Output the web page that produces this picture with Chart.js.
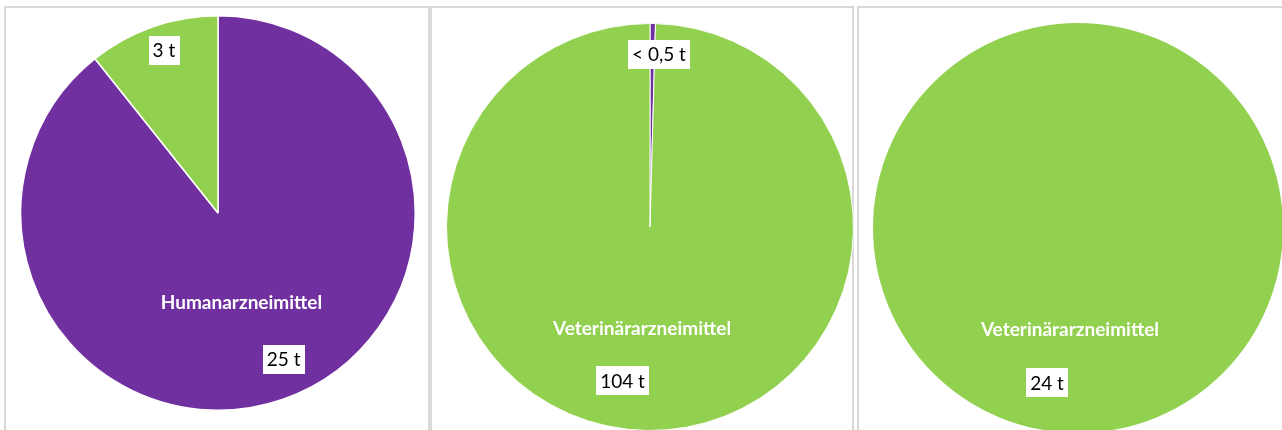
<!DOCTYPE html>
<html><head><meta charset="utf-8">
<script src="https://cdn.jsdelivr.net/npm/chart.js@4.4.1/dist/chart.umd.min.js"></script>
<style>
html,body{margin:0;padding:0;width:1282px;height:430px;overflow:hidden;background:#fff;}
.panel{position:absolute;border:2px solid #d9d9d9;box-sizing:border-box;}
.wrap{position:absolute;}
.wrap canvas{display:block;}
</style></head><body>
<div class="panel" style="left:4px;top:6px;width:426px;height:480px"></div>
<div class="panel" style="left:430px;top:6px;width:424px;height:480px"></div>
<div class="panel" style="left:857px;top:6px;width:440px;height:480px"></div>
<div class="wrap" style="left:20px;top:15px;width:396px;height:396px"><canvas id="c1"></canvas></div>
<div class="wrap" style="left:446px;top:23px;width:408px;height:408px"><canvas id="c2"></canvas></div>
<div class="wrap" style="left:873px;top:23px;width:410px;height:410px"><canvas id="c3"></canvas></div>
<script>
// ---- data ----
const categories = ['Humanarzneimittel', 'Veterinärarzneimittel'];
const colors = ['#7030A0', '#92D050'];
const panel1Values = [25, 3];
const panel2Values = [0.45, 104];
const panel3Values = [0, 24];
const panel1ValueLabels = ['25 t', '3 t'];
const panel2ValueLabels = ['< 0,5 t', '104 t'];
const panel3ValueLabels = ['', '24 t'];

const FONT = 'Lato, "Open Sans", sans-serif';

// label placement (offsets from pie center, in fractions of the radius)
function makeLabelPlugin(items) {
  return {
    id: 'pieLabels',
    afterDatasetsDraw(chart) {
      const meta = chart.getDatasetMeta(0);
      const a = meta.data[0];
      const cx = a.x, cy = a.y, r = a.outerRadius;
      const ctx = chart.ctx;
      ctx.save();
      ctx.textAlign = 'center';
      ctx.textBaseline = 'middle';
      items.forEach(it => {
        const x = cx + it.dx * r, y = cy + it.dy * r;
        if (it.kind === 'name') {
          ctx.font = 'bold 19px ' + FONT;
          ctx.fillStyle = '#ffffff';
          ctx.fillText(it.text, x, y);
        } else {
          ctx.font = '19px ' + FONT;
          const w = ctx.measureText(it.text).width + 8;
          const h = 29;
          ctx.fillStyle = '#ffffff';
          ctx.fillRect(Math.round(x - w / 2), Math.round(y - h / 2), Math.round(w), h);
          ctx.fillStyle = '#000000';
          ctx.fillText(it.text, x, y + 1);
        }
      });
      ctx.restore();
    }
  };
}

function makePie(id, values, borderWidth, items) {
  return new Chart(document.getElementById(id), {
    type: 'pie',
    data: {
      labels: categories,
      datasets: [{
        data: values,
        backgroundColor: colors,
        borderColor: '#ffffff',
        borderWidth: borderWidth
      }]
    },
    options: {
      responsive: true,
      maintainAspectRatio: false,
      animation: false,
      events: [],
      layout: { padding: 0 },
      plugins: { legend: { display: false }, tooltip: { enabled: false } }
    },
    plugins: [makeLabelPlugin(items)]
  });
}

makePie('c1', panel1Values, 1.5, [
  { kind: 'name', text: categories[0], dx: 0.119, dy: 0.454 },
  { kind: 'value', text: panel1ValueLabels[0], dx: 0.333, dy: 0.741 },
  { kind: 'value', text: panel1ValueLabels[1], dx: -0.274, dy: -0.825 }
]);
makePie('c2', panel2Values, 1, [
  { kind: 'value', text: panel2ValueLabels[0], dx: 0.044, dy: -0.850 },
  { kind: 'name', text: categories[1], dx: -0.039, dy: 0.500 },
  { kind: 'value', text: panel2ValueLabels[1], dx: -0.135, dy: 0.755 }
]);
makePie('c3', panel3Values, 0, [
  { kind: 'name', text: categories[1], dx: -0.039, dy: 0.498 },
  { kind: 'value', text: panel3ValueLabels[1], dx: -0.151, dy: 0.754 }
]);
</script>
</body></html>
